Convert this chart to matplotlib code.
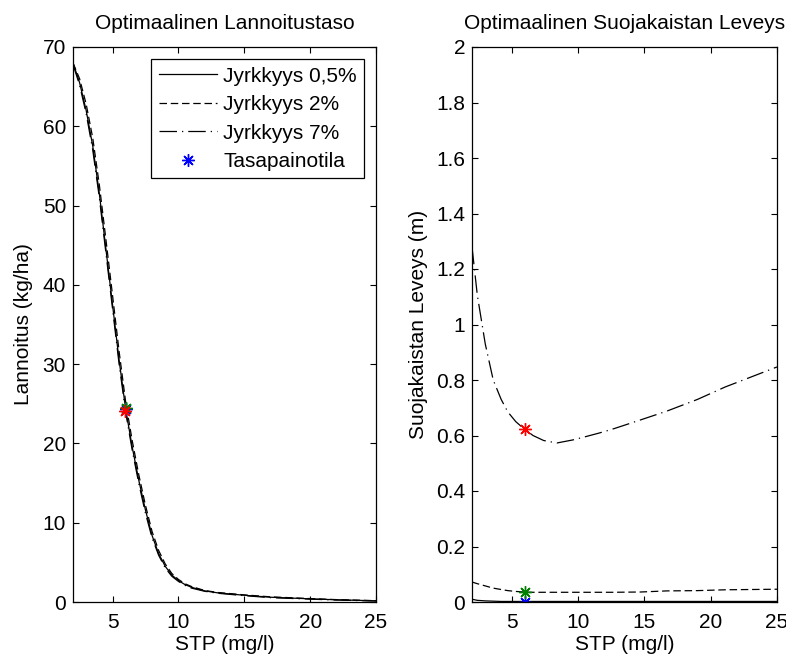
import matplotlib
matplotlib.use("Agg")
import matplotlib.pyplot as plt
from matplotlib.ticker import FuncFormatter

plt.rcParams['font.family'] = ['Liberation Sans', 'DejaVu Sans']
FS = 15
plt.rcParams['font.size'] = FS

# ---- data ----
labels = ["Jyrkkyys 0,5%", "Jyrkkyys 2%", "Jyrkkyys 7%"]
eq_label = "Tasapainotila"

stp_left = [2, 2.5, 3, 3.5, 4, 4.5, 5, 5.5, 6, 6.5, 7, 7.5, 8, 8.5, 9, 9.5, 10, 10.5, 11, 12, 13, 15, 17, 20, 22, 25]
lannoitus_05 = [68, 65.5, 62, 57.5, 51.5, 44.5, 37.5, 30.5, 24.3, 19.5, 15.3, 11.6, 8.4, 6.1, 4.5, 3.4, 2.7, 2.2, 1.85, 1.4, 1.15, 0.85, 0.6, 0.4, 0.28, 0.15]
lannoitus_2 = [68, 66.0, 62.8, 58.5, 52.6, 45.7, 38.7, 31.6, 25.2, 20.3, 16.0, 12.2, 8.9, 6.5, 4.8, 3.6, 2.85, 2.3, 1.95, 1.45, 1.2, 0.9, 0.65, 0.43, 0.3, 0.17]
lannoitus_7 = [67.8, 65.2, 61.6, 57.0, 51.0, 44.0, 37.0, 30.0, 23.9, 19.1, 14.9, 11.2, 8.1, 5.9, 4.3, 3.25, 2.6, 2.1, 1.75, 1.35, 1.1, 0.8, 0.55, 0.36, 0.25, 0.12]

stp_right = [2, 2.4, 3, 3.6, 4.2, 4.7, 5.3, 5.9, 6.6, 7.4, 8.4, 9.6, 10.5, 11.6, 12.6, 14.7, 16.7, 19, 21.1, 23, 25]
leveys_05 = [0.010, 0.006, 0.004, 0.003, 0.002, 0.002, 0.002, 0.002, 0.002, 0.002, 0.002, 0.002, 0.002, 0.002, 0.002, 0.002, 0.002, 0.002, 0.002, 0.002, 0.002]
leveys_2 = [0.072, 0.066, 0.058, 0.050, 0.045, 0.041, 0.038, 0.036, 0.035, 0.035, 0.035, 0.035, 0.035, 0.035, 0.035, 0.036, 0.040, 0.041, 0.044, 0.045, 0.046]
leveys_7 = [1.28, 1.106, 0.93, 0.80, 0.73, 0.685, 0.65, 0.625, 0.60, 0.582, 0.573, 0.584, 0.595, 0.609, 0.623, 0.656, 0.688, 0.73, 0.775, 0.81, 0.847]

eq_stp = [6.0, 6.05, 5.95]
eq_lannoitus = [24.3, 24.5, 24.1]
eq_leveys = [0.0, 0.035, 0.623]
eq_colors = ["#0000ff", "#008000", "#ff0000"]

styles = ["-", (0, (6, 3)), (0, (14, 4, 1, 4))]

fig = plt.figure(figsize=(7.86, 6.56), dpi=100)
ax1 = fig.add_axes([73/786, 54/656, 303/786, 555/656])
ax2 = fig.add_axes([472/786, 54/656, 305/786, 555/656])

lw = 0.9
l1, = ax1.plot(stp_left, lannoitus_05, color="k", lw=lw, linestyle=styles[0])
l2, = ax1.plot(stp_left, lannoitus_2, color="k", lw=lw, linestyle=styles[1])
l3, = ax1.plot(stp_left, lannoitus_7, color="k", lw=lw, linestyle=styles[2])
star = (8, 2, 0)
stars = []
for i in range(3):
    s, = ax1.plot([eq_stp[i]], [eq_lannoitus[i]], linestyle="none", marker=star,
                  markersize=9, markeredgewidth=1.0, color=eq_colors[i])
    stars.append(s)

ax2.plot(stp_right, leveys_05, color="k", lw=lw, linestyle=styles[0])
ax2.plot(stp_right, leveys_2, color="k", lw=lw, linestyle=styles[1])
ax2.plot(stp_right, leveys_7, color="k", lw=lw, linestyle=styles[2])
for i in range(3):
    ax2.plot([eq_stp[0]], [eq_leveys[i]], linestyle="none", marker=star,
             markersize=9, markeredgewidth=1.0, color=eq_colors[i])

for ax in (ax1, ax2):
    ax.set_xlim(2, 25)
    ax.set_xticks([5, 10, 15, 20, 25])
    ax.tick_params(direction="in", top=True, right=True, length=4, width=0.8, labelsize=FS, pad=5)
    ax.tick_params(axis="x", pad=8)
    ax.set_xlabel("STP (mg/l)", fontsize=FS, labelpad=2)
    for sp in ax.spines.values():
        sp.set_linewidth(0.9)

ax1.set_ylim(0, 70)
ax1.set_yticks(range(0, 71, 10))
ax1.set_ylabel("Lannoitus (kg/ha)", fontsize=FS, labelpad=7)
ax1.set_title("Optimaalinen Lannoitustaso", fontsize=FS, pad=13)

ax2.set_ylim(0, 2)
ax2.set_yticks([0, 0.2, 0.4, 0.6, 0.8, 1.0, 1.2, 1.4, 1.6, 1.8, 2.0])
ax2.yaxis.set_major_formatter(FuncFormatter(lambda v, p: "%g" % round(v, 2)))
ax2.set_ylabel("Suojakaistan Leveys (m)", fontsize=FS, labelpad=6)
ax2.set_title("Optimaalinen Suojakaistan Leveys", fontsize=FS, pad=13)

leg = ax1.legend([l1, l2, l3, stars[0]], labels + [eq_label], loc="upper right",
                 bbox_to_anchor=(0.975, 0.985), fontsize=FS, handlelength=2.8,
                 handletextpad=0.3, borderpad=0.35, labelspacing=0.45,
                 fancybox=False, framealpha=1, edgecolor="k", borderaxespad=0.2)
leg.get_frame().set_linewidth(0.9)

fig.savefig("out.png", dpi=100)
